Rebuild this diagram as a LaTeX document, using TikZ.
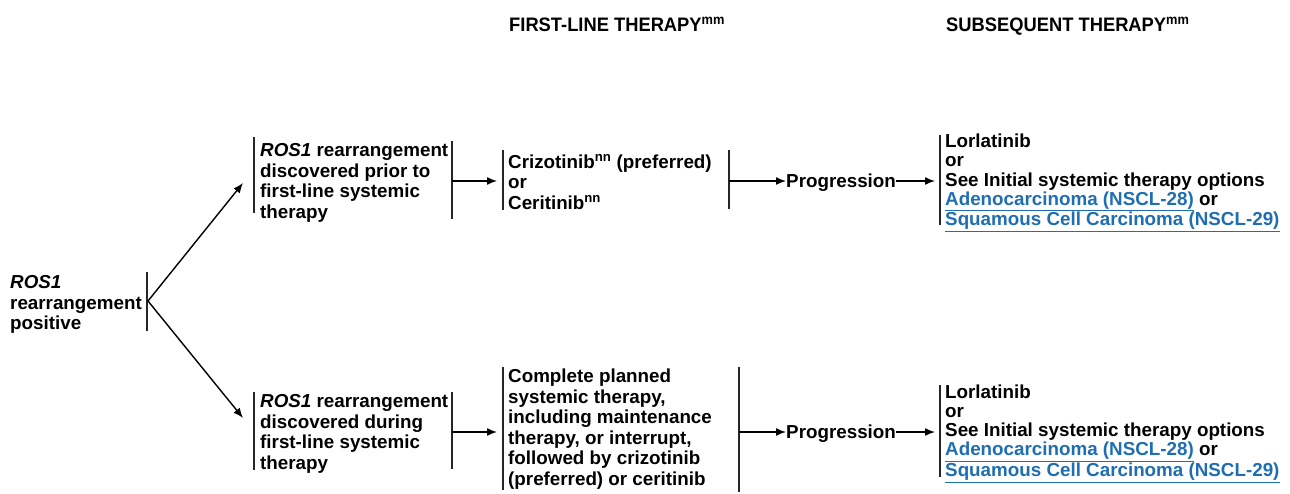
\documentclass[tikz,border=0pt]{standalone}
\usepackage{fontspec}
\setmainfont{Liberation Sans}
\usetikzlibrary{arrows.meta}
\definecolor{linkblue}{RGB}{31,110,178}
\newcommand{\lnk}[1]{\textcolor{linkblue}{\underline{#1}}}
\newcommand{\hdr}[1]{\scalebox{0.94}[1]{#1}}

\begin{document}
\begin{tikzpicture}[x=1pt,y=-1pt,
  txt/.style={anchor=west, align=left, inner sep=0pt,
    font=\bfseries\fontsize{18.8}{20.5}\selectfont},
  opt/.style={txt, font=\bfseries\fontsize{18.8}{19.2}\selectfont},
  head/.style={anchor=base west, inner sep=0pt,
    font=\bfseries\fontsize{19.5}{22}\selectfont},
  bar/.style={line width=1.7pt, black!85},
  arr/.style={-{Latex[length=10pt,width=8pt]}, line width=1.4pt},
]
\useasboundingbox (0,0) rectangle (1290,494);

% column headings
\node[head] (h1) at (509,32) {\hdr{FIRST-LINE THERAPY}\textsuperscript{\hdr{mm}}};
\node[head] (h2) at (946,32) {\hdr{SUBSEQUENT THERAPY}\textsuperscript{\hdr{mm}}};

% entry point
\node[txt] (start) at (10,304.5) {\textit{ROS1}\\rearrangement\\positive};
\draw[bar] (147,272) -- (147,331);
\coordinate (split) at (148,301);

% upper branch
\coordinate (inA) at (243,183);
\draw[bar] (254,137) -- (254,213);
\node[txt] (disA) at (260,183) {\textit{ROS1} rearrangement\\discovered prior to\\first-line systemic\\therapy};
\draw[bar] (452,141) -- (452,219);
\coordinate (outA) at (452,181);
\coordinate (inA2) at (497,181);
\draw[bar] (503,150) -- (503,210);
\node[txt] (trtA) at (508,182) {Crizotinib\textsuperscript{nn} (preferred)\\or\\Ceritinib\textsuperscript{nn}};
\draw[bar] (729,150) -- (729,209);
\coordinate (outA2) at (729,181);
\node[txt] (progA) at (786,183) {Progression};
\coordinate (inA3) at (935,181);
\draw[bar] (940,135) -- (940,225);
\node[opt] (subA) at (945,183) {Lorlatinib\\or\\See Initial systemic therapy options\\\lnk{Adenocarcinoma (NSCL-28)} or\\\lnk{Squamous Cell Carcinoma (NSCL-29)}};

% lower branch
\coordinate (inB) at (243,418);
\draw[bar] (254,392) -- (254,470);
\node[txt] (disB) at (260,434) {\textit{ROS1} rearrangement\\discovered during\\first-line systemic\\therapy};
\draw[bar] (452,392) -- (452,469);
\coordinate (outB) at (452,432);
\coordinate (inB2) at (497,432);
\draw[bar] (503,367) -- (503,490);
\node[txt] (trtB) at (508,429) {Complete planned\\systemic therapy,\\including maintenance\\therapy, or interrupt,\\followed by crizotinib\\(preferred) or ceritinib};
\draw[bar] (739,367) -- (739,492);
\coordinate (outB2) at (739,432);
\node[txt] (progB) at (786,434) {Progression};
\coordinate (inB3) at (935,432);
\draw[bar] (940,385) -- (940,477);
\node[opt] (subB) at (945,433.5) {Lorlatinib\\or\\See Initial systemic therapy options\\\lnk{Adenocarcinoma (NSCL-28)} or\\\lnk{Squamous Cell Carcinoma (NSCL-29)}};

% connectors
\draw[arr] (split) -- (inA);
\draw[arr] (split) -- (inB);
\draw[arr] (outA) -- (inA2);
\draw[arr] (outB) -- (inB2);
\draw[arr] (outA2) -- (progA.west |- outA2);
\draw[arr] (outB2) -- (progB.west |- outB2);
\draw[arr] (progA.east |- inA3) -- (inA3);
\draw[arr] (progB.east |- inB3) -- (inB3);
\end{tikzpicture}
\end{document}
